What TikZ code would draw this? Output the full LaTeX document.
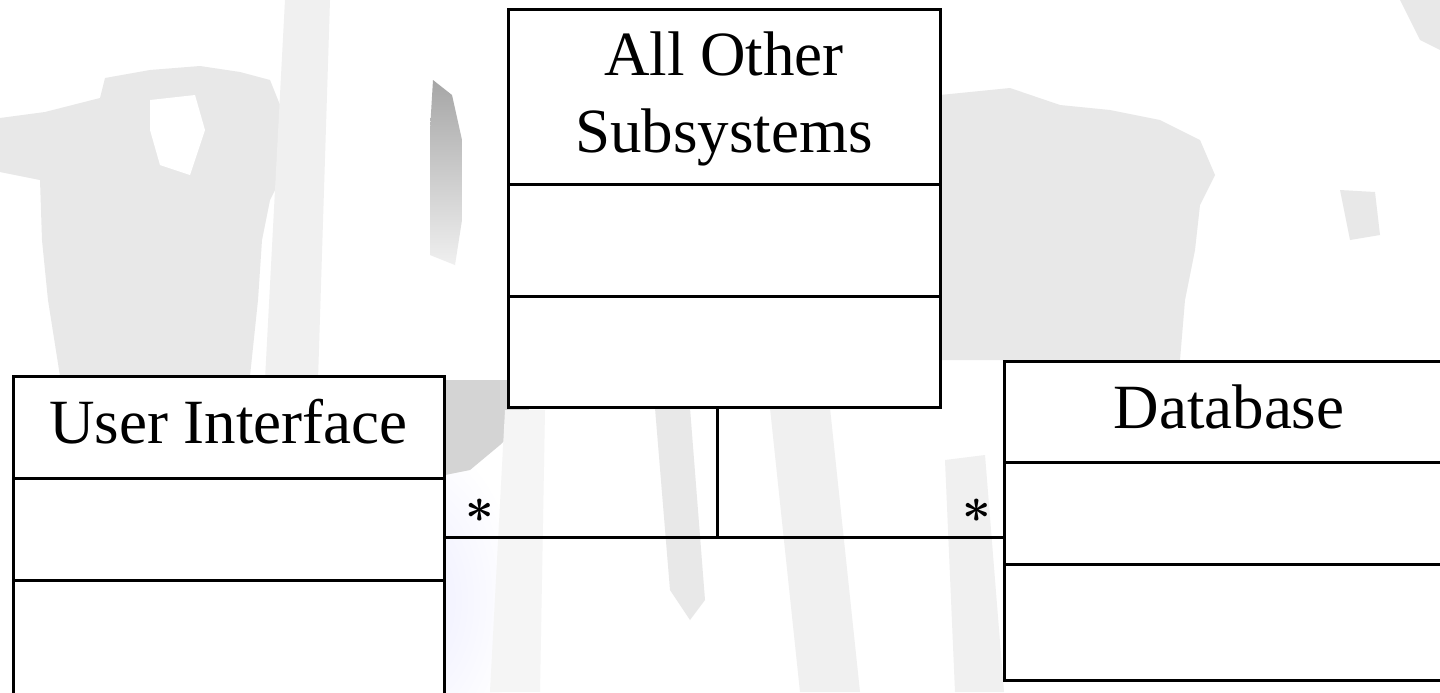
\documentclass[tikz,border=0pt]{standalone}
\usepackage{fontspec}
\setmainfont{Liberation Serif}
\usetikzlibrary{calc}
\begin{document}
\begin{tikzpicture}[x=0.5pt,y=-0.5pt,
  classbox/.style={draw=black, line width=1.5pt, fill=white, anchor=north west, inner sep=0pt, outer sep=0pt},
  divider/.style={line width=1.5pt},
  conn/.style={line width=1.5pt},
  title/.style={font=\fontsize{31.5}{38.5}\selectfont, inner sep=0pt, anchor=base},
  mult/.style={font=\fontsize{32}{34}\selectfont\boldmath, inner sep=0pt},
  map/.style={fill=black!9, draw=none},
  mapfaint/.style={fill=black!6, draw=none}]
\useasboundingbox (0,0) rectangle (1440,692);
\clip (0,0) rectangle (1440,692);
% faint map watermark
\fill[white] (0,0) rectangle (1440,692);
\shade[inner color=blue!7, outer color=white] (410,600) ellipse [x radius=110, y radius=170];
\fill[map] (0,118) -- (45,112) -- (100,98) -- (105,78) -- (150,70) -- (200,66) -- (240,72) -- (270,80) -- (282,110) -- (285,170) -- (270,200) -- (262,240) -- (258,300) -- (250,376) -- (60,376) -- (48,300) -- (42,240) -- (40,180) -- (0,172) -- cycle;
\fill[white] (150,100) -- (195,95) -- (205,130) -- (190,175) -- (160,165) -- (150,130) -- cycle;
\fill[mapfaint] (285,0) -- (330,0) -- (318,380) -- (265,380) -- cycle;
\shade[top color=black!35, bottom color=black!6] (433,80) -- (452,95) -- (462,140) -- (462,220) -- (455,265) -- (430,255) -- (430,130) -- cycle;
\fill[black!17] (445,380) -- (540,380) -- (525,420) -- (500,445) -- (470,470) -- (445,475) -- cycle;
\fill[black!4] (505,410) -- (545,410) -- (540,692) -- (490,692) -- cycle;
\fill[map] (655,408) -- (690,408) -- (705,600) -- (690,620) -- (670,590) -- cycle;
\fill[mapfaint] (770,408) -- (830,408) -- (860,692) -- (800,692) -- cycle;
\fill[mapfaint] (945,460) -- (985,455) -- (1004,692) -- (955,692) -- cycle;
\fill[map] (940,95) -- (1010,88) -- (1060,105) -- (1110,110) -- (1160,120) -- (1200,140) -- (1215,175) -- (1200,205) -- (1195,250) -- (1185,300) -- (1180,360) -- (940,360) -- cycle;
\fill[map] (1340,190) -- (1375,192) -- (1380,235) -- (1350,240) -- cycle;
\fill[map] (1400,0) -- (1440,0) -- (1440,50) -- (1420,40) -- cycle;
% class boxes
\node[classbox, minimum width=216pt, minimum height=199pt] (aos) at (508,9) {};
\node[classbox, minimum width=215.5pt, minimum height=172pt] (ui) at (13,376) {};
\node[classbox, minimum width=225pt, minimum height=159.5pt] (db) at (1004,361) {};
% compartments
\draw[divider] ($(aos.north west)+(0,175)$) -- ($(aos.north east)+(0,175)$);
\draw[divider] ($(aos.north west)+(0,287)$) -- ($(aos.north east)+(0,287)$);
\draw[divider] ($(ui.north west)+(0,102)$) -- ($(ui.north east)+(0,102)$);
\draw[divider] ($(ui.north west)+(0,204)$) -- ($(ui.north east)+(0,204)$);
\draw[divider] ($(db.north west)+(0,101)$) -- ($(db.north east)+(0,101)$);
\draw[divider] ($(db.north west)+(0,203)$) -- ($(db.north east)+(0,203)$);
% titles
\node[title, align=center, anchor=north] (aost) at (724,31) {All Other\\Subsystems};
\node[title] (uit) at (228.5,443) {User Interface};
\node[title] (dbt) at (1229,428) {Database};
% connectors
\coordinate (uiend) at ($(ui.north east)+(0,161)$);
\coordinate (dbend) at ($(db.north west)+(0,176)$);
\coordinate (aosport) at ($(aos.south)+(-7,0)$);
\draw[conn] (uiend) -- (dbend);
\draw[conn] (aosport) -- (aosport |- uiend);
% multiplicities
\node[mult] (m1) at (480,511) {$\ast$};
\node[mult] (m2) at (977,511) {$\ast$};
\end{tikzpicture}
\end{document}
